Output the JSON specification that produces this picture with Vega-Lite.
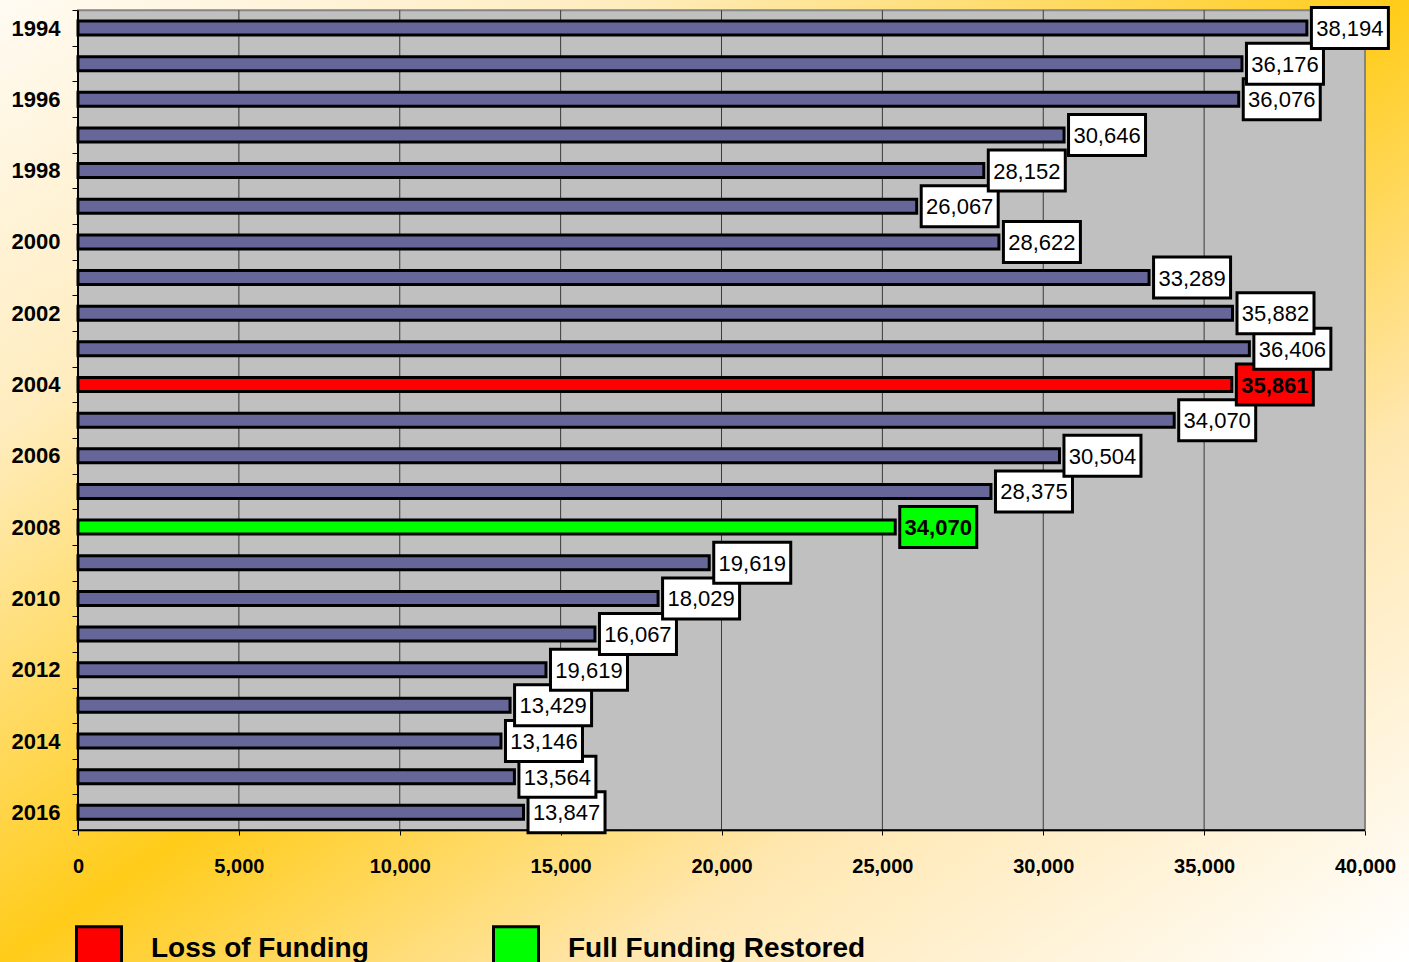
{
  "$schema": "https://vega.github.io/schema/vega-lite/v6.json",
  "width": 1409,
  "height": 962,
  "autosize": "none",
  "padding": 0,
  "background": "#FFFFFF",
  "view": {
    "stroke": null,
    "fill": {
      "gradient": "linear",
      "x1": 0, "y1": 0, "x2": 1, "y2": 1,
      "stops": [
        {"offset": 0, "color": "#FFFBF3"},
        {"offset": 0.22, "color": "#FFEDC0"},
        {"offset": 0.5, "color": "#FFCC1A"},
        {"offset": 0.72, "color": "#FFE7B0"},
        {"offset": 1, "color": "#FFFFFF"}
      ]
    }
  },
  "config": {
    "font": "Liberation Sans",
    "numberFormat": ",",
    "axis": {"labelOverlap": false, "labelFlush": false, "labelBound": false, "grid": false, "domain": false, "title": null}
  },
  "datasets": {
    "bars": [
      {"year": 1994, "value": 38194, "label": "38,194", "status": "Normal"},
      {"year": 1995, "value": 36176, "label": "36,176", "status": "Normal"},
      {"year": 1996, "value": 36076, "label": "36,076", "status": "Normal"},
      {"year": 1997, "value": 30646, "label": "30,646", "status": "Normal"},
      {"year": 1998, "value": 28152, "label": "28,152", "status": "Normal"},
      {"year": 1999, "value": 26067, "label": "26,067", "status": "Normal"},
      {"year": 2000, "value": 28622, "label": "28,622", "status": "Normal"},
      {"year": 2001, "value": 33289, "label": "33,289", "status": "Normal"},
      {"year": 2002, "value": 35882, "label": "35,882", "status": "Normal"},
      {"year": 2003, "value": 36406, "label": "36,406", "status": "Normal"},
      {"year": 2004, "value": 35861, "label": "35,861", "status": "Loss of Funding"},
      {"year": 2005, "value": 34070, "label": "34,070", "status": "Normal"},
      {"year": 2006, "value": 30504, "label": "30,504", "status": "Normal"},
      {"year": 2007, "value": 28375, "label": "28,375", "status": "Normal"},
      {"year": 2008, "value": 25400, "label": "34,070", "status": "Full Funding Restored"},
      {"year": 2009, "value": 19619, "label": "19,619", "status": "Normal"},
      {"year": 2010, "value": 18029, "label": "18,029", "status": "Normal"},
      {"year": 2011, "value": 16067, "label": "16,067", "status": "Normal"},
      {"year": 2012, "value": 14545, "label": "19,619", "status": "Normal"},
      {"year": 2013, "value": 13429, "label": "13,429", "status": "Normal"},
      {"year": 2014, "value": 13146, "label": "13,146", "status": "Normal"},
      {"year": 2015, "value": 13564, "label": "13,564", "status": "Normal"},
      {"year": 2016, "value": 13847, "label": "13,847", "status": "Normal"}
    ],
    "plot": [{"x0": 0, "x1": 40000, "y0": 1993.5, "y1": 2016.5}],
    "grid": [{"g": 5000}, {"g": 10000}, {"g": 15000}, {"g": 20000}, {"g": 25000}, {"g": 30000}, {"g": 35000}],
    "frame": [
      {"xa": 0, "xb": 0, "ya": 1993.5, "yb": 2016.5},
      {"xa": 0, "xb": 40000, "ya": 2016.5, "yb": 2016.5}
    ]
  },
  "layer": [
    {
      "data": {"name": "plot"},
      "mark": {"type": "rect", "fill": "#C0C0C0", "stroke": "#858585", "strokeWidth": 2},
      "encoding": {
        "x": {
          "field": "x0", "type": "quantitative",
          "scale": {"domain": [-2424.24, 41367.5], "nice": false, "zero": false, "padding": 0},
          "axis": {
            "orient": "bottom", "offset": -132, "title": null,
            "values": [0, 5000, 10000, 15000, 20000, 25000, 30000, 35000, 40000],
            "format": ",",
            "labelExpr": "format(datum.value, ',')",
            "domain": false, "grid": false,
            "ticks": true, "tickSize": 5, "tickColor": "#000000", "tickWidth": 1,
            "labelFont": "Liberation Sans",
            "labelFontSize": 20, "labelFontWeight": "bold", "labelColor": "#000000",
            "labelPadding": 21, "labelFlush": false, "labelOverlap": false
          }
        },
        "x2": {"field": "x1"},
        "y": {
          "field": "y0", "type": "quantitative",
          "scale": {"domain": [1993.2146, 2020.199], "nice": false, "zero": false, "reverse": true, "padding": 0},
          "axis": {
            "orient": "left", "offset": -78, "title": null,
            "values": [1993.5, 1994.5, 1995.5, 1996.5, 1997.5, 1998.5, 1999.5, 2000.5, 2001.5, 2002.5, 2003.5, 2004.5, 2005.5, 2006.5, 2007.5, 2008.5, 2009.5, 2010.5, 2011.5, 2012.5, 2013.5, 2014.5, 2015.5, 2016.5],
            "labelExpr": "(datum.value + 0.5) % 2 == 0 ? toString(datum.value + 0.5) : ''",
            "labelOffset": 17.83,
            "domain": false, "grid": false,
            "ticks": true, "tickSize": 6, "tickColor": "#000000", "tickWidth": 1,
            "labelFont": "Liberation Sans", "labelFontSize": 22, "labelFontWeight": "bold",
            "labelColor": "#000000", "labelPadding": 12, "labelFlush": false, "labelOverlap": false,
            "labelBaseline": "middle"
          }
        },
        "y2": {"field": "y1"}
      }
    },
    {
      "data": {"name": "grid"},
      "mark": {"type": "rule", "color": "#3A3A3A", "strokeWidth": 1},
      "encoding": {
        "x": {"field": "g", "type": "quantitative"},
        "y": {"datum": 1993.5, "type": "quantitative"},
        "y2": {"datum": 2016.5}
      }
    },
    {
      "data": {"name": "frame"},
      "mark": {"type": "rule", "color": "#000000", "strokeWidth": 2},
      "encoding": {
        "x": {"field": "xa", "type": "quantitative"},
        "x2": {"field": "xb"},
        "y": {"field": "ya", "type": "quantitative"},
        "y2": {"field": "yb"}
      }
    },
    {
      "data": {"name": "bars"},
      "mark": {"type": "bar", "orient": "horizontal", "size": 14, "stroke": "#000000", "strokeWidth": 3},
      "encoding": {
        "y": {"field": "year", "type": "quantitative"},
        "x": {"field": "value", "type": "quantitative"},
        "x2": {"datum": 0},
        "color": {
          "field": "status", "type": "nominal",
          "scale": {"domain": ["Normal", "Loss of Funding", "Full Funding Restored"], "range": ["#666699", "#FF0000", "#00FF00"]},
          "legend": {
            "values": ["Loss of Funding", "Full Funding Restored"],
            "orient": "none", "legendX": 75, "legendY": 925, "direction": "horizontal",
            "title": null, "padding": 0,
            "symbolType": "square", "symbolSize": 2025, "symbolStrokeColor": "#000000", "symbolStrokeWidth": 3, "symbolOpacity": 1,
            "labelFont": "Liberation Sans", "labelFontSize": 28, "labelFontWeight": "bold", "labelColor": "#000000",
            "labelOffset": 28, "columnPadding": 118, "labelLimit": 0
          }
        }
      }
    },
    {
      "data": {"name": "bars"},
      "mark": {"type": "point", "shape": "M-1,-0.532L1,-0.532L1,0.532L-1,0.532Z", "size": 5929, "filled": true, "stroke": "#000000", "strokeWidth": 3, "opacity": 1, "xOffset": 43},
      "encoding": {
        "y": {"field": "year", "type": "quantitative"},
        "x": {"field": "value", "type": "quantitative"},
        "fill": {
          "field": "status", "type": "nominal",
          "scale": {"domain": ["Normal", "Loss of Funding", "Full Funding Restored"], "range": ["#FFFFFF", "#FF0000", "#00FF00"]},
          "legend": null
        },
        "order": {"field": "year", "sort": "descending"}
      }
    },
    {
      "data": {"name": "bars"},
      "transform": [{"filter": "datum.status == 'Normal'"}],
      "mark": {"type": "text", "font": "Liberation Sans", "fontSize": 22, "align": "center", "baseline": "middle", "xOffset": 43, "dy": 1, "color": "#000000"},
      "encoding": {
        "y": {"field": "year", "type": "quantitative"},
        "x": {"field": "value", "type": "quantitative"},
        "text": {"field": "label"}
      }
    },
    {
      "data": {"name": "bars"},
      "transform": [{"filter": "datum.status != 'Normal'"}],
      "mark": {"type": "text", "font": "Liberation Sans", "fontSize": 22, "fontWeight": "bold", "align": "center", "baseline": "middle", "xOffset": 43, "dy": 1, "color": "#000000"},
      "encoding": {
        "y": {"field": "year", "type": "quantitative"},
        "x": {"field": "value", "type": "quantitative"},
        "text": {"field": "label"}
      }
    }
  ]
}
